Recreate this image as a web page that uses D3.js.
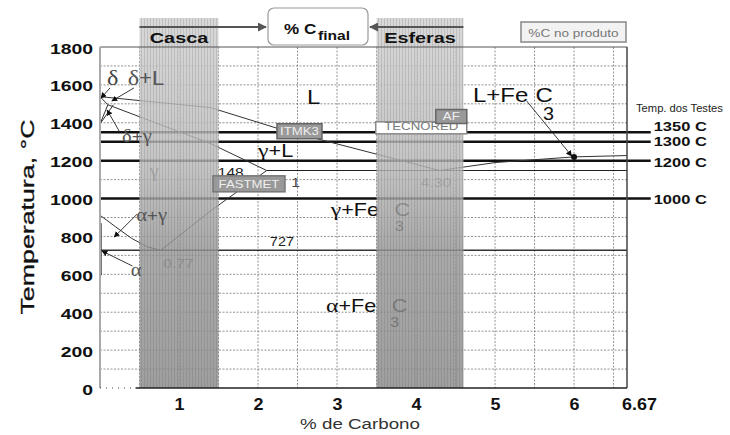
<!DOCTYPE html>
<html>
<head>
<meta charset="utf-8">
<script src="https://cdn.jsdelivr.net/npm/d3@7"></script>
<style>
body { margin: 0; background: #fff; }
svg { display: block; font-family: "Liberation Sans", Arial, sans-serif; }
</style>
</head>
<body>
<svg id="chart"></svg>
<script>
// axis ticks
var yTicks = [0, 200, 400, 600, 800, 1000, 1200, 1400, 1600, 1800];
var xTicks = [1, 2, 3, 4, 5, 6, 6.67];
var xTickLabels = ["1", "2", "3", "4", "5", "6", "6.67"];

// test temperatures
var testTemps = [1350, 1300, 1200, 1000];
var testLabels = ["1350 C", "1300 C", "1200 C", "1000 C"];

// shaded composition bands
var bandNames = ["Casca", "Esferas"];
var bandStart = [0.5, 3.5];
var bandEnd = [1.5, 4.6];

// phase boundaries (%C, temperature)
var liquidus = [[0, 1538], [1.4, 1480], [2.25, 1370], [2.8, 1310], [4.3, 1148]];
var liquidusFe3C = [[4.3, 1148], [5, 1190], [6, 1220], [6.67, 1227]];
var solidus = [[0.1, 1495], [1.4, 1290], [2.11, 1148]];
var a3Line = [[0, 912], [0.2, 850], [0.4, 790], [0.6, 745], [0.77, 727]];
var acmLine = [[0.77, 727], [1.4, 935], [2.11, 1148]];
var deltaA = [[0, 1538], [0.1, 1495]];
var deltaB = [[0, 1394], [0.1, 1495]];
var deltaC = [[0, 1394], [0.17, 1495]];
var alphaLine = [[0.015, 870], [0.015, 595]];
var eutectic = [[2.11, 1148], [6.67, 1148]];
var eutectoid = [[0, 727], [6.67, 727]];
var eutecticPoint = [6.0, 1220];

var W = 730, H = 435;
var svg = d3.select("#chart").attr("width", W).attr("height", H);

var x = d3.scaleLinear().domain([0, 6.67]).range([100, 627]);
var y = d3.scaleLinear().domain([0, 1800]).range([388, 47]);
var path = d3.line().x(function (d) { return x(d[0]); }).y(function (d) { return y(d[1]); });

var defs = svg.append("defs");
var grad = defs.append("linearGradient").attr("id", "bandGrad")
  .attr("x1", 0).attr("y1", 0).attr("x2", 0).attr("y2", 1);
grad.append("stop").attr("offset", "0%").attr("stop-color", "#d0d0d0");
grad.append("stop").attr("offset", "40%").attr("stop-color", "#b8b8b8");
grad.append("stop").attr("offset", "62%").attr("stop-color", "#979797");
grad.append("stop").attr("offset", "100%").attr("stop-color", "#8a8a8a");
var pat = defs.append("pattern").attr("id", "bandLines")
  .attr("width", 3).attr("height", 4).attr("patternUnits", "userSpaceOnUse");
pat.append("rect").attr("width", 1).attr("height", 4).attr("fill", "#555").attr("opacity", 0.18);

var mk = defs.append("marker").attr("id", "arr").attr("viewBox", "0 0 10 10")
  .attr("refX", 9).attr("refY", 5).attr("markerWidth", 6).attr("markerHeight", 6)
  .attr("orient", "auto-start-reverse").attr("markerUnits", "userSpaceOnUse");
mk.append("path").attr("d", "M0,0L10,5L0,10z").attr("fill", "#111");
var mk2 = defs.append("marker").attr("id", "arrG").attr("viewBox", "0 0 10 10")
  .attr("refX", 9).attr("refY", 5).attr("markerWidth", 9).attr("markerHeight", 9)
  .attr("orient", "auto-start-reverse").attr("markerUnits", "userSpaceOnUse");
mk2.append("path").attr("d", "M0,0L10,5L0,10z").attr("fill", "#555");

// text helper, the source is stretched horizontally
function txt(g, px, py, s, size, sx, fill, weight, anchor) {
  return g.append("text")
    .attr("transform", "translate(" + px + "," + py + ") scale(" + sx + ",1)")
    .attr("font-size", size)
    .attr("font-weight", weight || "normal")
    .attr("fill", fill || "#111")
    .attr("text-anchor", anchor || "start")
    .text(s);
}

// text with greek letters in serif
function rich(g, px, py, s, size, sx, fill) {
  var t = g.append("text")
    .attr("transform", "translate(" + px + "," + py + ") scale(" + sx + ",1)")
    .attr("font-size", size).attr("fill", fill || "#111");
  s.split(/([α-ω])/).forEach(function (p) {
    if (!p) return;
    var ts = t.append("tspan").text(p);
    if (/[α-ω]/.test(p)) ts.attr("font-family", "Liberation Serif").attr("font-size", size * 1.1);
  });
  return t;
}

// grid
var grid = svg.append("g");
for (var v = 0.5; v < 6.6; v += 0.5) {
  grid.append("line").attr("x1", x(v)).attr("x2", x(v)).attr("y1", y(1800)).attr("y2", y(0))
    .attr("stroke", "#777").attr("stroke-width", 0.8).attr("stroke-dasharray", "2,1.5");
}
for (var t = 100; t < 1800; t += 100) {
  grid.append("line").attr("x1", x(0)).attr("x2", x(6.67)).attr("y1", y(t)).attr("y2", y(t))
    .attr("stroke", "#777").attr("stroke-width", 0.8).attr("stroke-dasharray", "2,1.5");
}

// horizontal reaction lines
svg.append("path").attr("d", path(eutectic)).attr("stroke", "#222").attr("stroke-width", 1.2).attr("fill", "none");
svg.append("path").attr("d", path(eutectoid)).attr("stroke", "#333").attr("stroke-width", 1.6).attr("fill", "none");

// test temperature lines
var testLabelShift = [-1, 4, 6, 5];
testTemps.forEach(function (tt, i) {
  svg.append("line").attr("x1", x(0)).attr("x2", x(6.97)).attr("y1", y(tt)).attr("y2", y(tt))
    .attr("stroke", "#111").attr("stroke-width", 2.5);
  txt(svg, x(6.97) + 3, y(tt) + testLabelShift[i], testLabels[i], 13.5, 1.22, "#111", "bold");
});
txt(svg, 636, 112, "Temp. dos Testes", 10, 1.12, "#222");

// phase boundaries
[liquidus, liquidusFe3C, solidus, a3Line, acmLine, deltaA, deltaB, deltaC, alphaLine].forEach(function (l) {
  svg.append("path").attr("d", path(l)).attr("stroke", "#333").attr("stroke-width", 1).attr("fill", "none");
});

// labels under the bands
var under = svg.append("g");
txt(under, x(2.62), y(1500), "L", 20, 1.2, "#111");
rich(under, x(2.0), y(1219), "γ+L", 18, 1.2, "#111");
function fe3c(g, px, py, head) {
  var t = rich(g, px, py, head, 18, 1.2, "#111");
  t.append("tspan").attr("dx", 13).text("C");
  txt(g, px + 64, py + 15, "3", 15, 1.1, "#111");
}
fe3c(under, x(2.92), y(908), "γ+Fe");
fe3c(under, x(2.86), y(401), "α+Fe");
rich(under, x(0.63), y(1114), "γ", 17, 1.1, "#666");
txt(under, x(4.06), y(1061), "4.30", 13, 1.2, "#777");
txt(under, x(0.8), y(633), "0.77", 13, 1.2, "#777");
txt(under, x(1.49), y(1114), "148", 13, 1.2, "#222");
txt(under, x(2.42), y(1061), "1", 13, 1.2, "#444");
txt(under, x(2.15), y(750), "727", 12, 1.2, "#222");

// bands
var bands = svg.append("g");
bandNames.forEach(function (n, i) {
  var bx = x(bandStart[i]), bw = x(bandEnd[i]) - x(bandStart[i]);
  bands.append("rect").attr("x", bx).attr("y", 18).attr("width", bw).attr("height", y(0) - 18)
    .attr("fill", "url(#bandGrad)").attr("opacity", 0.82);
  bands.append("rect").attr("x", bx).attr("y", 18).attr("width", bw).attr("height", y(0) - 18)
    .attr("fill", "url(#bandLines)");
  txt(bands, bx + bw / 2, 43, n, 15.5, 1.28, "#111", "bold", "middle");
});

// labels above the bands
var over = svg.append("g");
txt(over, x(4.72), y(1510), "L+Fe", 20, 1.2, "#111").append("tspan").attr("dx", 6).text("C");
txt(over, x(4.72) + 70, y(1510) + 18, "3", 18, 1.1, "#111");
rich(over, x(0.09), y(1599), "δ", 20, 1.1, "#444");
rich(over, x(0.35), y(1599), "δ+L", 20, 1.1, "#555");
rich(over, x(0.28), y(1299), "δ+γ", 17, 1.1, "#555");
rich(over, x(0.46), y(882), "α+γ", 17, 1.1, "#555");
rich(over, x(0.39), y(591), "α", 17, 1.1, "#555");

// annotation arrows
var arrows = [
  [[0.127, 1584], [0.012, 1530]],
  [[0.43, 1584], [0.15, 1515]],
  [[0.25, 1351], [0.09, 1467]],
  [[0.47, 918], [0.18, 797]],
  [[0.41, 644], [0.025, 723]],
  [[5.4, 1515], [5.97, 1225]]
];
arrows.forEach(function (a) {
  over.append("path").attr("d", path(a)).attr("stroke", "#222").attr("stroke-width", 0.9)
    .attr("fill", "none").attr("marker-end", "url(#arr)");
});
over.append("circle").attr("cx", x(eutecticPoint[0])).attr("cy", y(eutecticPoint[1])).attr("r", 3).attr("fill", "#111");

// process boxes
function tag(px, py, w, h, s, fill, stroke, color) {
  over.append("rect").attr("x", px).attr("y", py).attr("width", w).attr("height", h)
    .attr("fill", fill).attr("stroke", stroke).attr("stroke-width", 1.5);
  txt(over, px + w / 2, py + h - 3.5, s, 11, 1.2, color, "normal", "middle");
}
tag(x(2.24), y(1395), 45, 15, "ITMK3", "#9a9a9a", "#666", "#eee");
tag(x(3.49), y(1405), 91, 12, "TECNORED", "#fff", "#888", "#777");
tag(x(4.25), y(1470), 31, 14, "AF", "#999", "#666", "#eee");
tag(x(1.43), y(1120), 72, 16, "FASTMET", "#999", "#777", "#eee");

// top box and arrows
svg.append("line").attr("x1", x(bandStart[0])).attr("x2", 266).attr("y1", 27).attr("y2", 27)
  .attr("stroke", "#555").attr("stroke-width", 2).attr("marker-end", "url(#arrG)");
svg.append("line").attr("x1", x(bandEnd[1])).attr("x2", 370).attr("y1", 27).attr("y2", 27)
  .attr("stroke", "#555").attr("stroke-width", 2).attr("marker-end", "url(#arrG)");
svg.append("rect").attr("x", 268).attr("y", 8).attr("width", 100).attr("height", 37).attr("rx", 6)
  .attr("fill", "#fff").attr("stroke", "#999").attr("stroke-width", 1.2);
txt(svg, 284, 34, "% C", 15.5, 1.1, "#111", "bold");
txt(svg, 318, 40, "final", 12, 1.3, "#111", "bold");

svg.append("rect").attr("x", 521).attr("y", 22).attr("width", 105).attr("height", 20)
  .attr("fill", "#f2f2f2").attr("stroke", "#888").attr("stroke-width", 1.5);
txt(svg, 573.5, 37, "%C no produto", 11, 1.23, "#777", "normal", "middle");

// frame
svg.append("line").attr("x1", x(0)).attr("x2", x(6.67)).attr("y1", y(1800)).attr("y2", y(1800)).attr("stroke", "#555").attr("stroke-width", 1.2);
svg.append("line").attr("x1", x(6.67)).attr("x2", x(6.67)).attr("y1", y(1800)).attr("y2", y(0)).attr("stroke", "#444").attr("stroke-width", 1.5);
svg.append("line").attr("x1", x(0)).attr("x2", x(0)).attr("y1", y(1800)).attr("y2", y(0)).attr("stroke", "#aaa").attr("stroke-width", 2);
svg.append("line").attr("x1", x(0.45)).attr("x2", x(6.67)).attr("y1", y(0)).attr("y2", y(0)).attr("stroke", "#222").attr("stroke-width", 1.5);
svg.append("line").attr("x1", x(0)).attr("x2", x(0.45)).attr("y1", y(0)).attr("y2", y(0)).attr("stroke", "#444").attr("stroke-width", 1.2).attr("stroke-dasharray", "1,5");

// axes
var yAxis = svg.append("g").attr("transform", "translate(" + x(0) + ",0)")
  .call(d3.axisLeft(y).tickValues(yTicks).tickSize(0).tickFormat(d3.format("d")));
yAxis.select(".domain").remove();
yAxis.attr("font-family", null).attr("font-size", null);
yAxis.selectAll("text").attr("x", 0).attr("dy", null)
  .attr("transform", "translate(-7,6) scale(1.25,1)")
  .attr("font-size", 15.5).attr("font-weight", "bold").attr("fill", "#111");

var xAxis = svg.append("g").attr("transform", "translate(0," + y(0) + ")")
  .call(d3.axisBottom(x).tickValues(xTicks).tickSize(0).tickFormat(function (d, i) { return xTickLabels[i]; }));
xAxis.select(".domain").remove();
xAxis.attr("font-family", null).attr("font-size", null);
xAxis.selectAll("text").attr("y", 0).attr("dy", null)
  .attr("transform", function (d) { return "translate(" + (d === 6.67 ? 12 : 0) + ",22) scale(1.12,1)"; })
  .attr("font-size", 16).attr("font-weight", "bold").attr("fill", "#111");

txt(svg, 360, 429, "% de Carbono", 15, 1.25, "#333", "normal", "middle");
svg.append("text")
  .attr("transform", "translate(34,217) rotate(-90)")
  .attr("text-anchor", "middle").attr("font-size", 18)
  .attr("textLength", 195).attr("lengthAdjust", "spacingAndGlyphs")
  .attr("fill", "#111").attr("stroke", "#111").attr("stroke-width", 0.3)
  .text("Temperatura, °C");
</script>
</body>
</html>
